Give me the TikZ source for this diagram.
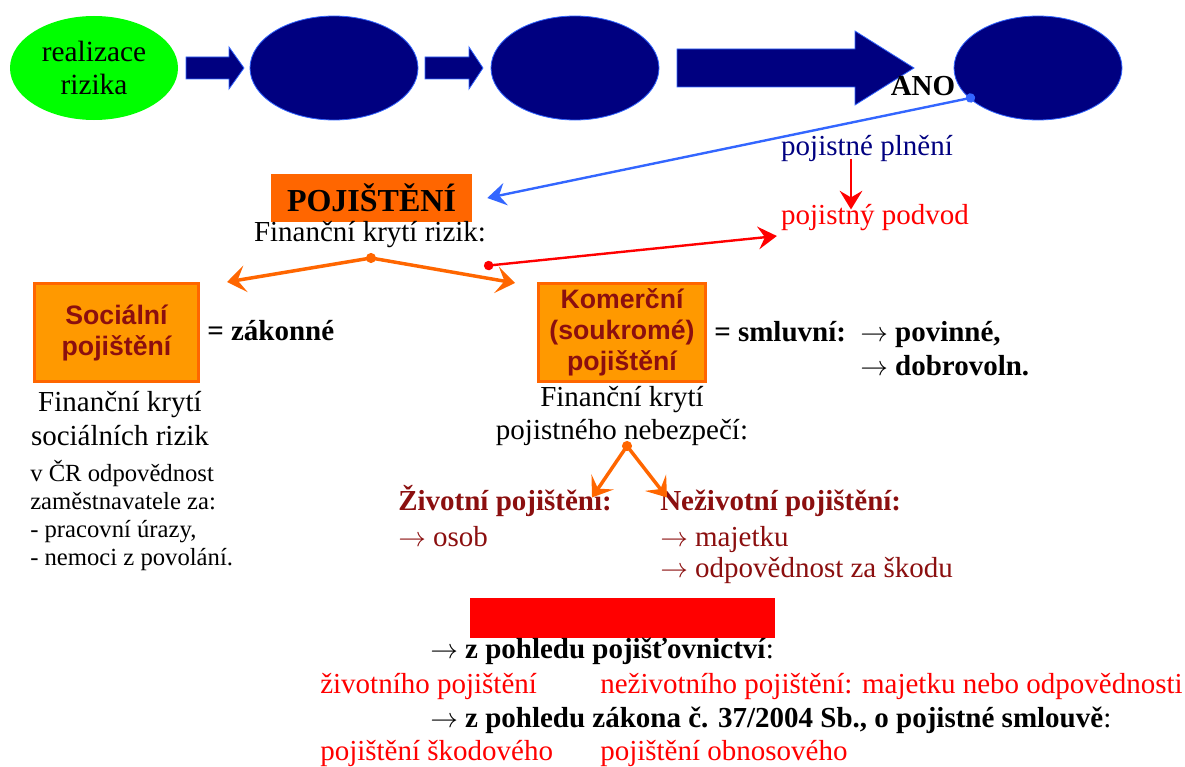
\documentclass[tikz,border=0pt]{standalone}
\usepackage{fontspec}
\setmainfont{Liberation Serif}
\setsansfont{Liberation Sans}
\usetikzlibrary{positioning,arrows.meta,shapes.geometric,calc}

\definecolor{navyfill}{HTML}{000080}
\definecolor{navyedge}{HTML}{3366FF}
\definecolor{limefill}{HTML}{00FF00}
\definecolor{boxorange}{HTML}{FF9900}
\definecolor{edgeorange}{HTML}{FF6600}
\definecolor{darkred}{HTML}{8B0F0F}
\definecolor{lineblue}{HTML}{3366FF}

\newcommand\toarrow{\ensuremath{\rightarrow}}

\begin{document}
\begin{tikzpicture}[x=0.75pt, y=-0.75pt,
    every node/.style={font=\fontsize{21.75}{24.75}\selectfont},
    oval/.style={draw=navyedge, line width=0.6pt, fill=navyfill, ellipse, minimum width=126pt, minimum height=78pt, inner sep=0pt},
    blockarr/.style={fill=navyfill, draw=navyedge, line width=0.6pt},
    kindbox/.style={draw=edgeorange, line width=2.25pt, fill=boxorange, minimum width=123pt, minimum height=73.5pt, inner sep=0pt, align=center, text=darkred, font=\sffamily\bfseries\fontsize{20}{23.25}\selectfont},
    txt/.style={inner sep=0pt, text height=0.72em, text depth=0.22em},
    bold/.style={txt, font=\bfseries\fontsize{21.75}{24.75}\selectfont},
    small/.style={inner sep=0pt, font=\fontsize{18.5}{21}\selectfont},
    dotarr/.style={line width=1.8pt, {Circle[length=7pt]}-{Stealth[length=14pt,width=17pt,inset=5pt]}},
    orarr/.style={draw=edgeorange, line width=2.6pt, -{Stealth[length=14pt,width=20pt,inset=6pt]}}
]
\useasboundingbox (0,0) rectangle (1185,767);

% top row
\node[oval, fill=limefill, draw=none, align=center, font=\fontsize{22}{25}\selectfont] (e1) at (94,68) {realizace\\rizika};
\node[oval] (e2) at (334,68) {};
\node[oval] (e3) at (575,68) {};
\node[oval] (e4) at (1038,68) {};

\filldraw[blockarr] (186,57) -- (229,57) -- (229,47) -- (244,68) -- (229,89) -- (229,79) -- (186,79) -- cycle;
\filldraw[blockarr] (425,57) -- (469,57) -- (469,47) -- (483,68) -- (469,89) -- (469,79) -- (425,79) -- cycle;
\filldraw[blockarr] (677,49) -- (855,49) -- (855,31) -- (914,68) -- (855,105) -- (855,87) -- (677,87) -- cycle;

\node[bold] (ano) at (923,92) {ANO};
\coordinate (anodot) at (975,97);

% pojisteni
\node[fill=edgeorange, minimum width=150.75pt, minimum height=36pt, inner sep=0pt, font=\bfseries\fontsize{24}{28}\selectfont] (poj) at (371.5,198) {POJIŠTĚNÍ};
\node[txt] (fin) at (370,238) {Finanční krytí rizik:};
\draw[dotarr, lineblue] (anodot) -- ($(poj.east)+(15,0)$);

\node[txt, text=navyfill] (plneni) at (867,152) {pojistné plnění};
\node[txt, text=red] (podvod) at (875,221) {pojistný podvod};
\draw[red, line width=1.8pt, -{Stealth[length=14pt,width=17pt,inset=5pt]}] ($(plneni.south)+(-16,0)$) -- ($(podvod.north)+(-24,-5)$);
\coordinate (reddot) at (484,266);
\draw[dotarr, red] (reddot) -- ($(podvod.west)+(-4,15)$);

% two branches
\node[kindbox] (soc) at (116.5,332.5) {Sociální\\pojištění};
\node[kindbox, minimum width=125.25pt] (kom) at (622,332.5) {Komerční\\(soukromé)\\pojištění};
\coordinate (fork) at (371,258);
\fill[edgeorange] (fork) circle[radius=3.8pt];
\draw[orarr] (fork) -- ($(soc.north east)+(27,0)$);
\draw[orarr] (fork) -- ($(kom.north west)+(-22,1)$);

\node[bold, anchor=west] (zak) at (207,337) {= zákonné};
\node[align=center, inner sep=0pt, font=\fontsize{21.75}{25.5}\selectfont] (socfin) at (120,419) {Finanční krytí\\sociálních rizik};
\node[small, anchor=north west, align=left] (socnote) at (30,460) {v ČR odpovědnost\\zaměstnavatele za:\\- pracovní úrazy,\\- nemoci z povolání.};

\node[bold, anchor=west] (smluv) at (714,338) {= smluvní:};
\node[bold, anchor=west] (povin) at (860,338) {\textmd{\toarrow} povinné,};
\node[bold, anchor=west] (dobro) at (860,372) {\textmd{\toarrow} dobrovoln.};
\node[align=center, inner sep=0pt, font=\fontsize{21.75}{24.75}\selectfont] (komfin) at (622,416) {Finanční krytí\\pojistného nebezpečí:};

\node[bold, anchor=west, text=darkred] (ziv) at (398,507) {Životní pojištění:};
\node[txt, anchor=west, text=darkred] (osob) at (398,543) {\toarrow{} osob};
\node[bold, anchor=west, text=darkred] (neziv) at (660,507) {Neživotní pojištění:};
\node[txt, anchor=west, text=darkred] (majet) at (660,543) {\toarrow{} majetku};
\node[txt, anchor=west, text=darkred] (odpov) at (660,574) {\toarrow{} odpovědnost za škodu};

\coordinate (fork2) at (627,446);
\fill[edgeorange] (fork2) circle[radius=3.8pt];
\draw[orarr] (fork2) -- ($(ziv.north east)+(-20,-3)$);
\draw[orarr] (fork2) -- ($(neziv.north west)+(7,-3)$);

% bottom part
\node[fill=red, minimum width=228.75pt, minimum height=30pt, inner sep=0pt] (redbar) at (622.5,618) {};
\node[bold, anchor=west] (pohl1) at (430,655) {\textmd{\toarrow} z pohledu pojišťovnictví\textmd{:}};
\node[txt, anchor=west, text=red] (zivpoj) at (320,690) {životního pojištění};
\node[txt, anchor=west, text=red] (nezivpoj) at (600,690) {neživotního pojištění: majetku nebo odpovědnosti};
\node[bold, anchor=west] (pohl2) at (430,724) {\textmd{\toarrow} z pohledu zákona č. 37/2004 Sb., o pojistné smlouvě\textmd{:}};
\node[txt, anchor=west, text=red] (skod) at (320,757) {pojištění škodového};
\node[txt, anchor=west, text=red] (obnos) at (600,757) {pojištění obnosového};
\end{tikzpicture}
\end{document}
